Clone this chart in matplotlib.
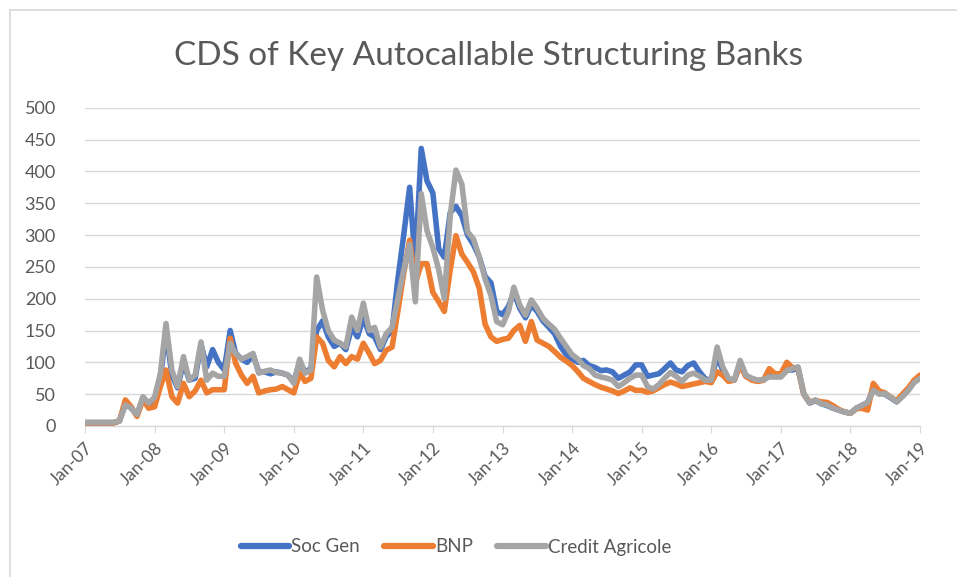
import pandas as pd
import numpy as np
import matplotlib
matplotlib.use("Agg")
import matplotlib.pyplot as plt
import matplotlib.dates as mdates
from matplotlib.lines import Line2D

# monthly observations, Jan-07 .. Jan-19
dates = pd.date_range("2007-01-01", "2019-01-01", freq="MS")

soc_gen = [
    5, 5, 5, 5, 5, 5, 8, 36, 28, 17, 44, 34,              # 2007
    40, 75, 150, 80, 60, 100, 72, 75, 128, 93, 120, 100,  # 2008
    88, 150, 115, 105, 100, 112, 85, 85, 82, 85, 83, 80,  # 2009
    70, 100, 85, 90, 150, 165, 140, 125, 130, 120, 155, 140,  # 2010
    170, 145, 140, 120, 140, 150, 230, 300, 375, 255, 436, 385,  # 2011
    366, 278, 265, 335, 345, 330, 300, 285, 265, 235, 225, 180,  # 2012
    175, 188, 210, 185, 170, 190, 180, 165, 155, 145, 125, 112,  # 2013
    105, 100, 103, 95, 92, 87, 88, 85, 75, 80, 85, 96,    # 2014
    96, 78, 80, 82, 90, 99, 88, 85, 95, 99, 85, 74,       # 2015
    72, 110, 88, 73, 72, 98, 78, 74, 71, 72, 80, 78,      # 2016
    78, 88, 88, 90, 50, 36, 40, 35, 32, 28, 25, 22,       # 2017
    20, 28, 32, 37, 58, 52, 50, 44, 38, 48, 58, 70,       # 2018
    77,                                                   # Jan-19
]

bnp = [
    5, 5, 5, 5, 5, 5, 8, 41, 30, 15, 42, 28,
    30, 62, 88, 46, 36, 67, 46, 55, 72, 52, 57, 57,
    57, 138, 99, 80, 67, 78, 52, 55, 57, 58, 62, 57,
    52, 83, 70, 75, 140, 130, 103, 93, 109, 98, 109, 105,
    130, 114, 98, 103, 119, 124, 180, 240, 292, 224, 255, 255,
    210, 195, 180, 245, 299, 270, 257, 242, 216, 160, 140, 133,
    136, 138, 150, 158, 133, 164, 135, 130, 125, 117, 108, 102,
    95, 85, 75, 70, 65, 61, 58, 55, 51, 55, 60, 56,
    56, 53, 55, 60, 65, 69, 66, 62, 64, 66, 68, 70,
    68, 85, 80, 70, 72, 95, 78, 72, 70, 72, 90, 82,
    82, 100, 92, 90, 50, 38, 40, 38, 37, 32, 26, 22,
    20, 27, 28, 25, 67, 55, 52, 45, 40, 50, 60, 72,
    80,
]

credit_agricole = [
    6, 6, 6, 6, 6, 6, 8, 33, 28, 18, 46, 36,
    45, 83, 161, 88, 62, 109, 72, 80, 132, 72, 83, 78,
    78, 130, 114, 105, 109, 114, 83, 86, 88, 84, 83, 80,
    67, 105, 83, 88, 234, 182, 150, 135, 130, 124, 171, 150,
    193, 150, 155, 124, 145, 155, 200, 245, 285, 195, 365, 307,
    280, 245, 200, 330, 402, 380, 305, 294, 265, 231, 205, 164,
    159, 180, 218, 190, 174, 198, 185, 169, 160, 152, 138, 125,
    112, 105, 95, 90, 80, 77, 75, 72, 62, 68, 75, 80,
    80, 62, 58, 65, 75, 84, 78, 70, 80, 83, 78, 72,
    72, 124, 93, 75, 72, 103, 80, 75, 72, 73, 77, 77,
    77, 87, 90, 93, 51, 36, 41, 35, 33, 28, 25, 22,
    20, 28, 32, 37, 56, 50, 51, 45, 38, 46, 56, 68,
    75,
]

series_names = ["Soc Gen", "BNP", "Credit Agricole"]
series_colors = ["#4472C4", "#ED7D31", "#A5A5A5"]
y_ticks = [0, 50, 100, 150, 200, 250, 300, 350, 400, 450, 500]

text_color = "#595959"
grid_color = "#D9D9D9"

plt.rcParams["font.family"] = ["Lato", "DejaVu Sans"]

fig = plt.figure(figsize=(9.57, 5.77), dpi=100)
ax = fig.add_axes([85 / 957, 1 - 426 / 577, (920 - 85) / 957, (426 - 107.7) / 577])

for vals, name, col in zip([soc_gen, bnp, credit_agricole], series_names, series_colors):
    ax.plot(dates, vals, color=col, lw=4, label=name, solid_joinstyle="round",
            solid_capstyle="round", zorder=3)

ax.set_ylim(0, 500)
ax.set_xlim(pd.Timestamp("2007-01-01"), pd.Timestamp("2019-01-01"))
ax.set_yticks(y_ticks)
ax.yaxis.grid(True, color=grid_color, lw=1)
ax.set_axisbelow(True)

ax.xaxis.set_major_locator(mdates.YearLocator())
ax.xaxis.set_major_formatter(mdates.DateFormatter("%b-%y"))

for s in ["top", "right", "left"]:
    ax.spines[s].set_visible(False)
ax.spines["bottom"].set_color(grid_color)
ax.spines["bottom"].set_linewidth(1)

ax.tick_params(axis="y", length=0, pad=21, labelsize=13, labelcolor=text_color)
ax.tick_params(axis="x", length=5, color=grid_color, pad=5, labelsize=12.5,
               labelcolor=text_color)
for lab in ax.get_xticklabels():
    lab.set_rotation(45)
    lab.set_ha("right")
    lab.set_rotation_mode("anchor")

fig.text(489 / 957, 1 - 56 / 577, "CDS of Key Autocallable Structuring Banks",
         ha="center", va="center", fontsize=24, color=text_color)

handles = [Line2D([0], [0], color=c, lw=4.5, solid_capstyle="round") for c in series_colors]
fig.legend(handles, series_names, loc="center", bbox_to_anchor=(456 / 957, 1 - 547 / 577),
           ncol=3, frameon=False, fontsize=13.5, labelcolor=text_color,
           handlelength=2.6, handletextpad=0.1, columnspacing=1.3)

# chart frame (left and top edges are visible in the reference)
fig.add_artist(Line2D([10 / 957, 10 / 957], [0, 1 - 10 / 577], color="#D9D9D9", lw=1.2))
fig.add_artist(Line2D([10 / 957, 1], [1 - 10 / 577, 1 - 10 / 577], color="#D9D9D9", lw=1.2))

fig.savefig("out.png", dpi=100)
